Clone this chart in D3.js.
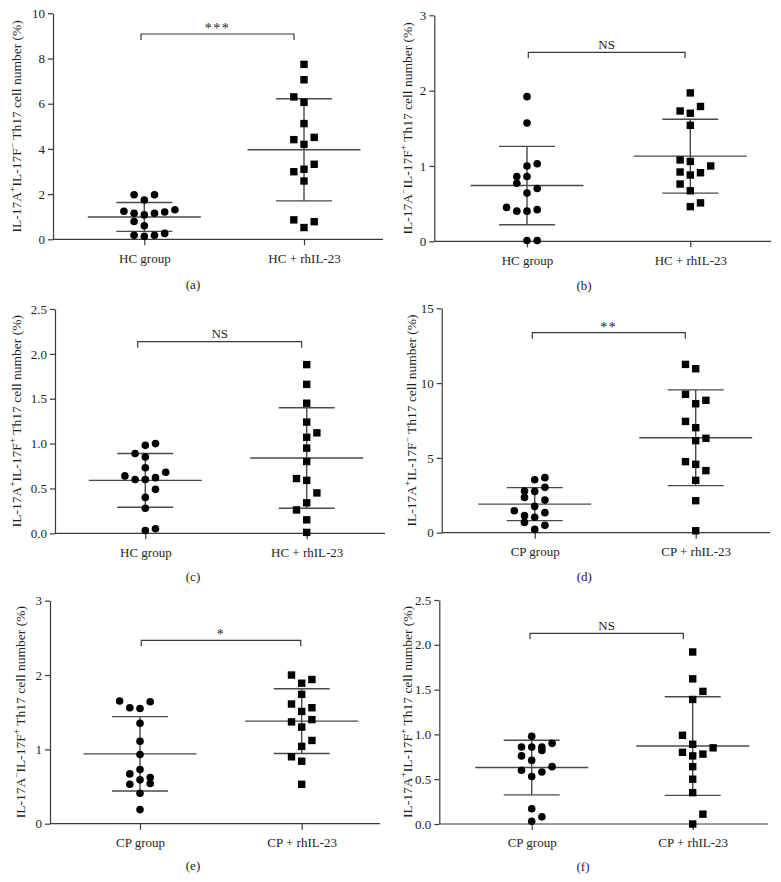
<!DOCTYPE html>
<html><head><meta charset="utf-8">
<script src="https://cdn.jsdelivr.net/npm/d3@7"></script>
<style>body{margin:0;background:#fff}svg{display:block}text{-webkit-font-smoothing:antialiased}</style>
</head><body>
<svg id="chart" width="781" height="882"></svg>
<script>
// ---------- data ----------
const groupsHC = ["HC group", "HC + rhIL-23"];
const groupsCP = ["CP group", "CP + rhIL-23"];

// (a) IL-17A+IL-17F- , HC
const aCtrl     = [1.97,1.97,1.74,1.24,1.15,1.08,1.15,1.21,1.31,0.79,0.60,0.18,0.13,0.18,0.26];
const aCtrlLane = [-1,1,0,-2,-1,0,1,2,3,-1,0,-1,0,1,2];
const aTrt      = [7.74,7.06,6.30,6.06,5.12,4.41,4.51,4.20,3.32,2.99,3.10,2.58,0.86,0.78,0.52];
const aTrtLane  = [0,0,-1,0,0,-1,1,0,1,-1,0,0,-1,1,0];
const aMean = [0.99, 3.96], aSD = [0.64, 2.26];

// (b) IL-17A-IL-17F+ , HC
const bCtrl     = [1.92,1.57,1.00,1.03,0.86,0.86,0.77,0.70,0.64,0.45,0.40,0.40,0.42,0.01,0.01];
const bCtrlLane = [0,0,0,1,-1,0,-1,1,0,-2,-1,0,1,0,1];
const bTrt      = [1.97,1.73,1.70,1.79,1.54,1.08,1.06,1.00,0.92,0.88,0.91,0.76,0.67,0.46,0.51];
const bTrtLane  = [0,-1,0,1,0,-1,0,2,-1,0,1,-1,0,0,1];
const bMean = [0.74, 1.13], bSD = [0.52, 0.49];

// (c) IL-17A+IL-17F+ , HC
const cCtrl     = [1.00,0.98,0.89,0.85,0.73,0.68,0.64,0.60,0.60,0.62,0.49,0.40,0.28,0.03,0.05];
const cCtrlLane = [1,0,-1,0,0,2,-2,-1,0,1,1,0,0,0,1];
const cTrt      = [1.88,1.66,1.45,1.24,1.12,1.07,0.95,0.80,0.61,0.59,0.45,0.34,0.26,0.15,0.01];
const cTrtLane  = [0,0,0,0,1,0,0,0,-1,0,1,0,-1,0,0];
const cMean = [0.59, 0.84], cSD = [0.30, 0.56];

// (d) IL-17A+IL-17F- , CP
const dCtrl     = [3.68,3.54,2.79,2.76,3.03,2.36,2.18,1.76,1.47,1.34,1.14,1.03,0.69,0.49,0.22];
const dCtrlLane = [1,0,-1,0,1,-1,1,0,-2,1,-1,0,-1,1,0];
const dTrt      = [11.25,10.96,9.25,8.85,8.62,7.44,7.02,6.15,6.31,4.75,4.57,4.15,3.50,2.14,0.13];
const dTrtLane  = [-1,0,-1,1,0,-1,0,0,1,-1,0,1,0,0,0];
const dMean = [1.91, 6.35], dSD = [1.10, 3.20];

// (e) IL-17A-IL-17F+ , CP
const eCtrl     = [1.65,1.64,1.56,1.55,1.35,1.11,0.93,0.73,0.67,0.62,0.59,0.53,0.54,0.41,0.19];
const eCtrlLane = [-2,1,-1,0,0,0,0,0,-1,1,0,-1,1,0,0];
const eTrt      = [2.00,1.94,1.89,1.74,1.61,1.56,1.51,1.37,1.40,1.30,1.12,1.04,0.90,0.84,0.53];
const eTrtLane  = [-1,1,0,0,-1,1,0,-1,1,0,1,0,-1,0,0];
const eMean = [0.94, 1.38], eSD = [0.50, 0.435];

// (f) IL-17A+IL-17F+ , CP
const fCtrl     = [0.98,0.86,0.86,0.86,0.82,0.90,0.76,0.71,0.60,0.58,0.64,0.53,0.17,0.08,0.03];
const fCtrlLane = [0,-1,0,1,1,2,-1,0,-1,1,2,0,0,1,0];
const fTrt      = [1.92,1.62,1.48,1.39,0.99,0.89,0.80,0.85,0.76,0.78,0.64,0.50,0.35,0.11,0.00];
const fTrtLane  = [0,0,1,0,-1,0,-1,2,0,1,0,0,0,1,0];
const fMean = [0.63, 0.87], fSD = [0.305, 0.55];

const ticksA = [0,2,4,6,8,10];
const ticksB = [0,1,2,3];
const ticksC = [0,0.5,1.0,1.5,2.0,2.5];
const ticksD = [0,5,10,15];
const ticksE = [0,1,2,3];
const ticksF = [0,0.5,1.0,1.5,2.0,2.5];

const sigLabels = ["***","NS","NS","**","*","NS"];
const panelLetters = ["(a)","(b)","(c)","(d)","(e)","(f)"];
const yTitleA = ["IL-17A","+","IL-17F","−"," Th17 cell number (%)"];
const yTitleB = ["IL-17A","−","IL-17F","+"," Th17 cell number (%)"];
const yTitleC = ["IL-17A","+","IL-17F","+"," Th17 cell number (%)"];

// ---------- layout ----------
const panels = [
  {ctrl:aCtrl, cl:aCtrlLane, trt:aTrt, tl:aTrtLane, mean:aMean, sd:aSD, ticks:ticksA, fmt:d3.format("d"), groups:groupsHC, title:yTitleA,
   x0:53, x1:383, yT:13.3, yB:239.3, c1:144.3, c2:304, tx:21, lx:193, ly:288.5, bY:34, bL:141, bR:294},
  {ctrl:bCtrl, cl:bCtrlLane, trt:bTrt, tl:bTrtLane, mean:bMean, sd:bSD, ticks:ticksB, fmt:d3.format("d"), groups:groupsHC, title:yTitleB,
   x0:434.3, x1:771, yT:15.3, yB:241.3, c1:527, c2:690.3, tx:412, lx:584, ly:289.5, bY:52.3, bL:528.3, bR:685},
  {ctrl:cCtrl, cl:cCtrlLane, trt:cTrt, tl:cTrtLane, mean:cMean, sd:cSD, ticks:ticksC, fmt:d3.format(".1f"), groups:groupsHC, title:yTitleC,
   x0:55, x1:385, yT:309, yB:533.3, c1:145.3, c2:306.7, tx:21, lx:193, ly:580.5, bY:341.7, bL:137.7, bR:301.7},
  {ctrl:dCtrl, cl:dCtrlLane, trt:dTrt, tl:dTrtLane, mean:dMean, sd:dSD, ticks:ticksD, fmt:d3.format("d"), groups:groupsCP, title:yTitleA,
   x0:441.7, x1:770, yT:308.3, yB:532.7, c1:534.7, c2:695.7, tx:416, lx:584.3, ly:580.5, bY:332.7, bL:532.3, bR:685.3},
  {ctrl:eCtrl, cl:eCtrlLane, trt:eTrt, tl:eTrtLane, mean:eMean, sd:eSD, ticks:ticksE, fmt:d3.format("d"), groups:groupsCP, title:yTitleB,
   x0:50, x1:380, yT:600.7, yB:823.7, c1:140, c2:301.7, tx:25, lx:193, ly:870, bY:640.3, bL:141.3, bR:300.7},
  {ctrl:fCtrl, cl:fCtrlLane, trt:fTrt, tl:fTrtLane, mean:fMean, sd:fSD, ticks:ticksF, fmt:d3.format(".1f"), groups:groupsCP, title:yTitleC,
   x0:439.3, x1:768, yT:600, yB:824, c1:531.7, c2:692.7, tx:412, lx:583, ly:870.5, bY:633.3, bL:530, bR:683.3}
];

const FONT = "'Liberation Serif','Times New Roman',serif";
const AX = "#3a3a3a", STAT = "#4a4a4a", INK = "#231f20";
const svg = d3.select("#chart");
const laneScale = d3.scaleLinear().domain([0,1]).range([0,10.2]);

panels.forEach((p, i) => {
  const g = svg.append("g");
  const y = d3.scaleLinear().domain([p.ticks[0], p.ticks[p.ticks.length-1]]).range([p.yB, p.yT]);
  const x = d3.scaleLinear().domain([0,1]).range([p.c1, p.c2]);

  // y axis
  const ya = g.append("g").attr("transform", `translate(${p.x0},0)`)
    .call(d3.axisLeft(y).tickValues(p.ticks).tickFormat(p.fmt).tickSize(5).tickPadding(3).tickSizeOuter(0));
  ya.select(".domain").attr("stroke", AX).attr("stroke-width", 1.2);
  ya.selectAll(".tick line").attr("stroke", AX).attr("stroke-width", 1.2);
  ya.selectAll(".tick text").attr("font-family", FONT).attr("font-size", 13).attr("fill", INK);

  // x axis
  const xa = g.append("g").attr("transform", `translate(0,${p.yB})`)
    .call(d3.axisBottom(x).tickValues([0,1]).tickFormat(d => p.groups[d]).tickSize(6).tickPadding(8).tickSizeOuter(0));
  xa.select(".domain").remove();
  xa.selectAll(".tick line").attr("stroke", AX).attr("stroke-width", 1.2);
  xa.selectAll(".tick text").attr("font-family", FONT).attr("font-size", 13).attr("fill", INK);
  g.append("line").attr("x1", p.x0).attr("x2", p.x1).attr("y1", p.yB).attr("y2", p.yB)
    .attr("stroke", AX).attr("stroke-width", 1.2);

  // y title
  const t = g.append("text").attr("transform", `translate(${p.tx},${(p.yT+p.yB)/2}) rotate(-90)`)
    .attr("text-anchor","middle").attr("font-family", FONT).attr("font-size", 13.5).attr("fill", INK);
  p.title.forEach((s, k) => {
    const ts = t.append("tspan").text(s);
    if (k === 1 || k === 3) ts.attr("baseline-shift","super").attr("font-size", 9.5);
  });

  // panel letter
  g.append("text").attr("x", p.lx).attr("y", p.ly).attr("text-anchor","middle")
    .attr("font-family", FONT).attr("font-size", 13).attr("fill", INK).text(panelLetters[i]);

  // significance bracket
  g.append("path").attr("d", `M${p.bL},${p.bY+6}V${p.bY}H${p.bR}V${p.bY+6}`)
    .attr("fill","none").attr("stroke", AX).attr("stroke-width", 1.2);
  g.append("text").attr("x", (p.bL+p.bR)/2).attr("y", p.bY - (sigLabels[i] === "NS" ? 3.5 : 1))
    .attr("text-anchor","middle").attr("font-family", FONT)
    .attr("font-size", sigLabels[i] === "NS" ? 13 : 14).attr("fill", INK)
    .attr("letter-spacing", sigLabels[i] === "NS" ? 0 : 1.5).text(sigLabels[i]);

  // mean & SD lines
  [0,1].forEach(k => {
    const cx = x(k), m = p.mean[k], s = p.sd[k];
    g.append("line").attr("x1", cx).attr("x2", cx).attr("y1", y(m+s)).attr("y2", y(m-s))
      .attr("stroke", STAT).attr("stroke-width", 1.4);
    g.append("line").attr("x1", cx-56.5).attr("x2", cx+56.5).attr("y1", y(m)).attr("y2", y(m))
      .attr("stroke", STAT).attr("stroke-width", 1.4);
    [m+s, m-s].forEach(v => g.append("line").attr("x1", cx-28).attr("x2", cx+28)
      .attr("y1", y(v)).attr("y2", y(v)).attr("stroke", STAT).attr("stroke-width", 1.4));
  });

  // points
  g.selectAll("circle.pt").data(p.ctrl.map((v, k) => ({v, lane: p.cl[k]}))).enter()
    .append("circle").attr("class","pt")
    .attr("cx", d => x(0) + laneScale(d.lane)).attr("cy", d => y(d.v)).attr("r", 3.8).attr("fill", "#000");
  const sq = 7.4;
  g.selectAll("rect.pt").data(p.trt.map((v, k) => ({v, lane: p.tl[k]}))).enter()
    .append("rect").attr("class","pt")
    .attr("x", d => x(1) + laneScale(d.lane) - sq/2).attr("y", d => y(d.v) - sq/2)
    .attr("width", sq).attr("height", sq).attr("fill", "#000");
});
</script>
</body></html>
